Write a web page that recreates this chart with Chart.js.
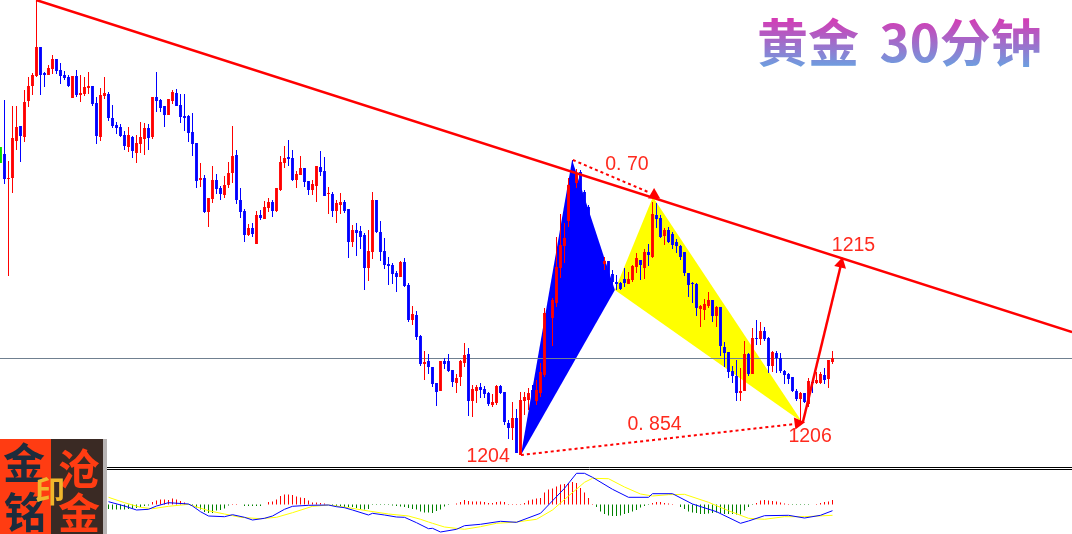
<!DOCTYPE html>
<html>
<head>
<meta charset="utf-8">
<title>黄金 30分钟</title>
<script src="https://cdn.jsdelivr.net/npm/chart.js@4/dist/chart.umd.min.js"></script>
<style>
  html, body { margin: 0; padding: 0; background: #fff; overflow: hidden; }
  canvas { display: block; }
</style>
</head>
<body>
<canvas id="goldChart" width="1072" height="534"></canvas>
<script>
// 30 minute gold candles
const opens = [
  1219.3,1218.05,1218.1,1219.95,1220.7,1220.15,1221.95,1222.7,1223.2,1224.65,
  1223.35,1223.25,1223.55,1224.05,1223.5,1223.25,1223.15,1222.1,1223.2,1222.25,
  1222.3,1222.6,1222.7,1221.85,1220.15,1222.2,1222.3,1221.1,1220.75,1220.65,
  1220.25,1219.65,1220.15,1219.35,1219.8,1220.05,1220.6,1220.15,1222.15,1222,
  1221.7,1221.25,1221.95,1222.35,1221.75,1221.2,1221.2,1220.4,1219.85,1218,
  1218.1,1216.4,1217.05,1218,1217.6,1217.25,1217.75,1218.35,1219.25,1217,
  1216.45,1215.25,1215.6,1214.8,1216.25,1216.05,1216.6,1216.9,1216.45,1217.5,
  1218.85,1219.15,1219.1,1218,1218.25,1218.6,1217.95,1217.5,1217.7,1218.65,
  1218.45,1217.3,1217.3,1216.45,1216.75,1216.9,1216.55,1214.9,1215.5,1215.45,
  1215.25,1213.6,1214.4,1217,1215.4,1214.45,1213.8,1213.75,1213.35,1213.15,
  1213.9,1212.75,1211,1211.25,1210.2,1208.8,1208.95,1208.65,1207.85,1207.45,
  1208.95,1208.95,1208.5,1207.85,1208.15,1208.85,1209.3,1206.95,1207.45,1207.65,
  1207.55,1207.35,1206.75,1206.85,1207.7,1207.4,1205.85,1205.6,1206.1,1204.25,
  1206.95,1207,1207.5,1206.95,1207.35,1208.25,1211.75,1211.1,1211.85,1213.6,
  1214.7,1215.95,1218.4,1217.85,1218.4,1217.4,1216.65,1215.6,1214.75,1214,
  1213.8,1213.95,1213.3,1212.9,1212.85,1213.05,1212.8,1213,1213.65,1214,
  1213.6,1214.4,1214.15,1216.25,1216.1,1215.2,1215.5,1215.3,1214.9,1214.7,
  1214.4,1213.35,1212.85,1212.8,1211.55,1211.5,1211.7,1212,1211.2,1211.65,
  1209.65,1209.4,1208.45,1208.2,1207.35,1207.45,1209.3,1208.3,1210.1,1210.05,
  1210.45,1210.1,1208.7,1209.35,1209.1,1208.45,1208.3,1208.15,1207.45,1207.05,
  1207.35,1206.8,1207.9,1207.85,1207.85,1208.25,1208.05,1208.9
];
const closes = [
  1218.05,1218.1,1220.1,1220.65,1220.2,1221.9,1222.7,1223.25,1224.65,1223.25,
  1223.25,1223.6,1224.05,1223.45,1223.2,1223.1,1222.7,1223.2,1222.25,1222.35,
  1222.65,1222.7,1221.8,1220.2,1222.25,1222.35,1221.1,1220.7,1220.6,1220.2,
  1219.7,1220.25,1219.45,1219.85,1220.15,1220.6,1220.1,1222.15,1221.95,1221.6,
  1221.25,1222.05,1222.4,1221.7,1221.15,1221.1,1220.35,1219.8,1217.95,1218.1,
  1216.4,1217.1,1218,1217.55,1217.3,1217.75,1218.35,1219.2,1217,1216.4,
  1215.25,1215.6,1215.3,1216.25,1216.1,1216.65,1216.9,1216.45,1217.6,1218.9,
  1219.1,1219.05,1218,1218.3,1218.6,1217.9,1217.5,1217.8,1218.7,1218.4,
  1217.2,1217.35,1216.45,1216.85,1216.9,1216.45,1214.9,1215.5,1215.35,1215.15,
  1213.6,1214.45,1217,1215.4,1214.4,1213.75,1213.7,1213.3,1213.15,1213.9,
  1212.7,1211,1211.3,1210.15,1208.8,1208.9,1208.65,1207.8,1207.4,1208.95,
  1208.8,1208.45,1207.9,1208.1,1208.95,1209.25,1206.95,1207.55,1207.65,1207.5,
  1207.3,1206.8,1206.9,1207.7,1207.35,1205.9,1205.6,1206.1,1204.35,1207,
  1207.15,1207.35,1206.9,1207.5,1208.4,1211.35,1211,1212,1213.65,1214.75,
  1215.1,1217.75,1217.75,1218.35,1217.5,1216.75,1215.75,1214.75,1213.9,1213.6,
  1213.95,1213.25,1212.9,1212.8,1212.55,1212.85,1213.05,1213.7,1214.1,1213.75,
  1214.4,1214.25,1216.3,1216.05,1215.15,1215.5,1214.9,1214.75,1214.7,1214.15,
  1213.35,1212.75,1212.8,1211.6,1211.7,1211.8,1212,1211.2,1211.65,1209.7,
  1209.35,1208.4,1208.2,1207.35,1207.45,1209.3,1208.3,1210.1,1210.05,1210.45,
  1210.05,1208.7,1209.4,1209.1,1208.45,1208.25,1208.05,1207.45,1207.05,1207.35,
  1206.9,1207.95,1207.85,1208,1208.3,1208,1209,1209.1
];
const highs = [
  1222,1218.95,1221.7,1221.7,1220.7,1222.5,1223.15,1223.35,1227,1224.65,
  1223.4,1223.75,1224.25,1224.05,1223.85,1223.45,1223.25,1223.2,1223.5,1223.25,
  1223.15,1223.4,1222.7,1222.15,1222.6,1223.15,1222.4,1221.75,1220.9,1220.8,
  1220.45,1220.65,1220.2,1220.25,1220.9,1220.85,1220.8,1222.15,1223.4,1222.05,
  1221.7,1222.05,1222.5,1222.55,1222.3,1222.3,1221.25,1221.35,1219.85,1218.85,
  1218.25,1217.1,1218.7,1218.3,1217.7,1218.2,1218.9,1220.7,1219.5,1217.6,
  1216.55,1215.8,1215.85,1216.45,1216.5,1216.95,1217.1,1217,1217.6,1219.2,
  1219.7,1220,1219.5,1218.45,1219.2,1218.6,1217.95,1218,1218.7,1219.45,
  1219.15,1217.65,1217.4,1217,1217.35,1217,1216.55,1215.75,1215.85,1215.7,
  1215.35,1215.5,1217.4,1217,1215.95,1215.1,1214.15,1213.85,1213.45,1213.95,
  1214.1,1212.85,1211.7,1211.45,1210.25,1209.45,1209.3,1208.65,1207.85,1208.95,
  1209.1,1209.3,1208.5,1208.3,1209,1209.85,1209.6,1207.75,1207.75,1207.85,
  1207.7,1207.4,1207.3,1207.75,1207.75,1207.4,1206,1206.9,1206.55,1207.4,
  1207.4,1207.6,1207.75,1208,1208.85,1211.6,1212,1212.1,1215.15,1216.3,
  1215.85,1218.1,1219,1218.55,1218.5,1217.5,1216.75,1215.75,1215,1214.25,
  1214.15,1213.95,1213.5,1213.25,1212.9,1213.6,1213.4,1213.75,1214.35,1214,
  1214.55,1214.8,1216.9,1216.85,1216.25,1215.6,1215.65,1215.4,1215.05,1214.75,
  1214.4,1213.35,1212.9,1212.85,1211.75,1212.05,1212.4,1212,1211.7,1211.65,
  1209.9,1209.4,1208.7,1209,1208.6,1209.95,1209.35,1210.6,1211,1210.9,
  1210.65,1210.15,1209.45,1209.45,1209.35,1208.5,1208.35,1208.15,1207.55,1207.4,
  1207.35,1208.1,1208,1208.4,1208.4,1208.6,1209,1209.45
];
const lows = [
  1217.8,1213.2,1217.35,1219.5,1218.9,1219.9,1221.65,1222.25,1223.15,1222.25,
  1222.65,1223.25,1223.3,1223.3,1222.8,1223,1222.65,1222.1,1222.15,1221.9,
  1222.2,1222.3,1221.7,1219.8,1219.95,1222.05,1220.95,1220.6,1220.3,1220.15,
  1219.5,1219.4,1219.1,1218.85,1219.35,1219.25,1219.5,1220.05,1221.4,1221.4,
  1220.65,1221.25,1221.8,1221.7,1220.85,1220.45,1219.9,1219.2,1217.6,1217.65,
  1216.35,1215.65,1216.85,1217.3,1217,1217.1,1217.6,1217.85,1216.8,1216.1,
  1214.9,1215.2,1215.15,1214.8,1216,1216.05,1216.4,1216.15,1216.4,1217.45,
  1218.6,1218.7,1217.95,1217.6,1218.25,1217.65,1217.25,1217.25,1216.9,1218.2,
  1217.2,1216.3,1216.15,1215.85,1216.3,1216.35,1214.1,1214.65,1214.2,1214.55,
  1212.5,1212.95,1214.05,1215.35,1213.95,1213.55,1212.75,1212.8,1212.4,1213.15,
  1212.65,1210.9,1210.75,1210,1208.7,1208,1208.3,1207.65,1206.7,1207.45,
  1208.55,1208.4,1207.65,1207.35,1207.7,1208.65,1206.2,1206.15,1206.85,1207.1,
  1207.1,1206.7,1206.65,1206.75,1207.3,1205.75,1205.05,1205,1204.35,1204.25,
  1206.25,1206.5,1206.5,1206.75,1207.15,1208.15,1210.5,1209.7,1211.65,1213.1,
  1213.85,1215.65,1217.25,1217.6,1217.25,1216.25,1215.4,1214.5,1213.5,1213.1,
  1213.5,1213,1212.5,1212.5,1212.5,1212.65,1212.8,1212.9,1213.35,1213,
  1213.05,1213.7,1214.1,1215.6,1215.1,1214.75,1214.85,1214.55,1214.35,1214,
  1213.2,1212.15,1211.85,1211.2,1210.65,1211,1211.6,1210.9,1210.65,1209.2,
  1208.65,1208.1,1207.85,1206.95,1206.95,1207.45,1208.2,1208.3,1209.75,1209.75,
  1209.95,1208.35,1208.4,1208.35,1208.35,1207.8,1207.8,1207.4,1206.95,1205.9,
  1206.85,1206.65,1207.35,1207.8,1207.8,1207.8,1207.6,1208.8
];
// partly cut off bar at the left edge
const edgeBarIndex = -1;
const edgeBarRange = [1218.85, 1219.65];

// MACD histogram starts at candle 26
const histStart = 26;
const macdHist = [
  -4.5,-5,-5,-5,-5,-4.5,-4,-3.5,-2.5,-1.5,-1,2.5,4,5,5,4.5,6,5,3.5,2,
  -0.5,-1,-3,-5,-7.5,-8.5,-8.5,-6,-5.5,-4,-1,0.5,0.5,0,-1.5,-1.5,-1.5,-1.5,-1.5,0,
  2.5,3,5,8.5,10,10,9.5,8,7,6.5,4,2,2,1.5,1,0,-1.5,-1.5,-1.5,-2.5,
  -2.5,-2.5,-3.5,-4.5,-5,-4.5,-0.5,-0.5,-0.5,-0.5,-0.5,-1,-1.5,-2,-2.5,-3.5,-4.5,-5,-7,-8,
  -8,-8.5,-6.5,-5,-2,-0.5,0,1,2.5,4.5,3.5,3,3,3,2.5,1.5,1.5,2.5,3,2.5,
  0.5,0.5,0.5,0.5,1.5,4,5,6,6.5,12,15,16,18,20,20.5,21.5,22.5,21.5,16.5,12,
  6.5,0.5,-2.5,-7,-9.5,-11,-11.5,-11.5,-11,-9.5,-8.5,-7,-5.5,-3,-1.5,-0.5,1.5,2.5,2.5,1.5,
  1,0.5,0,-2.5,-4.5,-7,-8,-8.5,-9.5,-9.5,-9,-8.5,-8,-8.5,-9.5,-9.5,-9.5,-10,-10,-6,
  -2.5,-0.5,1.5,4,4.5,4,3.5,3,2,1,0.5,-0.5,-0.5,-0.5,-0.5,-0.5,0,0.5,1.5,2.5,
  3,4.5
];
const diffIndex = [26,30,33,36,38,41,46,47,49,51,55,57,60,62,65,67,70,72,76,81,83,85,87,91,92,95,98,100,103,106,
  107,109,113,115,119,124,128,134,140,143,145,147,152,156,161,162,167,172,178,184,186,190,196,200,204,207];
const diffLine = [2.8,-1.5,-5.5,-4.8,-1.5,1.8,0.5,-1.5,-7.2,-11.5,-12.2,-10.2,-12.8,-15.5,-13.8,-11.5,-4.8,-1.8,-0.8,-0.5,-2.2,-3.2,-5.5,-10.5,-8.8,-10.5,-12.5,-12.8,-18.2,-24.2,
  -23.8,-27.5,-24.8,-21.2,-19.8,-16.8,-17.8,-8.8,16.2,31.2,31.2,27.2,15.2,7.2,7.2,10.8,10.8,0.5,-7.2,-18.8,-16.5,-11.2,-10.8,-13.5,-10.8,-6.2];
const deaIndex = [26,30,34,37,41,46,51,55,59,64,68,72,77,81,86,91,96,101,104,106,
  107,110,115,119,123,128,133,137,141,145,147,151,155,159,162,166,170,176,181,186,190,195,200,207];
const deaLine = [7.2,1.8,-2.8,-4.2,-1.8,0.2,-6.2,-9.5,-12.8,-14.2,-12.8,-8.2,-1.8,-0.5,-3.2,-6.5,-9.5,-11.5,-14.8,-17.5,
  -18.8,-22.5,-24.8,-22.2,-18.8,-17.5,-14.8,-5.5,8.5,22.2,26.2,25.8,17.5,10.5,8.5,9.8,10.2,2.2,-6.2,-13.8,-14.8,-12.2,-12.2,-10.8];

// drawn objects: trend line, level, harmonic pattern legs
const trendIndex = [7.9, 266.9];
const trendPrice = [1227, 1210.4];
const levelIndex = [-1.125, 266.875];
const levelPrice = 1209.075;
const separatorPrices = [1203.625, 1203.525];
const separatorIndex = [25.6, 266.9];
const blueLegIndex = [141.9, 129.1, 152.6, 141.9];
const blueLegPrice = [1219, 1204.25, 1212.5, 1219];
const yellowLegIndex = [162.1, 152.6, 199.4, 162.1];
const yellowLegPrice = [1217.15, 1212.5, 1205.9, 1217.15];
const upperDotIndex = [142.1, 160.9];
const upperDotPrice = [1219, 1217.4];
const lowerDotIndex = [129.1, 197.6];
const lowerDotPrice = [1204.25, 1205.8];
const arrowIndex = [199.6, 209.4];
const arrowPrice = [1205.9, 1214];
const headIndex = [162.4, 198.4, 209.1];
const headPrice = [1217.25, 1205.85, 1213.8];
const headAngle = [0, 83, 13];

const labelTexts = ["0. 70", "0. 854", "1204", "1206", "1215"];
const labelIndex = [155.6, 162.5, 120.9, 201.4, 212.25];
const labelPrice = [1218.75, 1205.75, 1204.15, 1205.15, 1214.7];

const RED = "#ff0000";
const BLUE = "#0000ff";
const candleIndex = opens.map((_, i) => i);
const candleColors = opens.map((o, i) => (closes[i] >= o ? RED : BLUE));

function points(xs, ys) {
  return xs.map((x, i) => ({ x: x, y: ys[i] }));
}

function lineSet(xs, ys, color, width, extra) {
  return Object.assign({
    type: "line",
    data: points(xs, ys),
    borderColor: color,
    borderWidth: width,
    pointRadius: 0,
    tension: 0,
    fill: false
  }, extra || {});
}

// text that is not tied to the bars: title and the stamp at bottom left
const decorations = {
  id: "decorations",
  afterDatasetsDraw(chart) {
    const ctx = chart.ctx;
    const sx = chart.scales.x;
    const sy = chart.scales.y;
    ctx.save();

    ctx.textBaseline = "middle";
    ctx.textAlign = "center";
    ctx.fillStyle = "#ff2a1e";
    ctx.font = '19.5px "Liberation Sans"';
    labelTexts.forEach((t, i) => {
      ctx.fillText(t, sx.getPixelForValue(labelIndex[i]), sy.getPixelForValue(labelPrice[i]));
    });

    const grad = ctx.createLinearGradient(0, 18, 0, 67);
    grad.addColorStop(0, "#d63ab4");
    grad.addColorStop(1, "#6c9fe0");
    ctx.fillStyle = grad;
    ctx.textAlign = "left";
    ctx.font = 'bold 51px "Noto Sans CJK SC"';
    ctx.wordSpacing = "9px";
    ctx.fillText("黄金 30分钟", 757, 43);
    ctx.wordSpacing = "0px";

    ctx.fillStyle = "#ff3c12";
    ctx.fillRect(0, 439, 51, 95);
    ctx.fillStyle = "#3a2a24";
    ctx.fillRect(51, 439, 52, 95);
    ctx.fillStyle = "#b8b4b4";
    ctx.fillRect(103, 439, 4, 95);

    ctx.textAlign = "center";
    ctx.font = 'bold 42px "Noto Sans CJK SC"';
    ctx.fillStyle = "#1d2c3c";
    ctx.fillText("金", 24, 463);
    ctx.fillText("铭", 25, 512);
    ctx.fillStyle = "#ff3c12";
    ctx.fillText("沧", 79, 469);
    ctx.fillText("金", 79, 513);
    ctx.font = 'bold 30px "Noto Sans CJK SC"';
    ctx.fillStyle = "#f0b62c";
    ctx.fillText("印", 50, 491);

    ctx.restore();
  }
};

new Chart(document.getElementById("goldChart"), {
  type: "bar",
  plugins: [decorations],
  data: {
    datasets: [
      // first in the list is painted last
      lineSet(headIndex, headPrice, RED, 0, {
        showLine: false,
        pointStyle: "triangle",
        pointRadius: 7,
        pointRotation: headAngle,
        pointBackgroundColor: RED,
        pointBorderWidth: 0
      }),
      lineSet(arrowIndex, arrowPrice, RED, 2.5),
      lineSet(upperDotIndex, upperDotPrice, RED, 2, { borderDash: [3, 3] }),
      lineSet(lowerDotIndex, lowerDotPrice, RED, 2, { borderDash: [3, 3] }),
      lineSet(trendIndex, trendPrice, RED, 2.5),
      lineSet(separatorIndex, separatorIndex.map(() => separatorPrices[0]), "#000000", 1),
      lineSet(separatorIndex, separatorIndex.map(() => separatorPrices[1]), "#000000", 1),
      lineSet(diffIndex, diffLine, BLUE, 1, { yAxisID: "macd" }),
      lineSet(deaIndex, deaLine, "#ffff00", 1, { yAxisID: "macd" }),
      // with grouped: false only maxBarThickness limits the bar width
      {
        yAxisID: "macd",
        data: macdHist.map((v, i) => ({ x: histStart + i, y: v })),
        backgroundColor: macdHist.map(v => (v > 0 ? RED : "#008000")),
        maxBarThickness: 1,
        grouped: false
      },
      {
        data: candleIndex.map(i => ({ x: i, y: [opens[i], closes[i]] })),
        backgroundColor: candleColors,
        maxBarThickness: 3,
        grouped: false
      },
      {
        data: candleIndex.map(i => ({ x: i, y: [lows[i], highs[i]] })),
        backgroundColor: candleColors,
        maxBarThickness: 1,
        grouped: false
      },
      {
        data: [{ x: edgeBarIndex, y: edgeBarRange }],
        backgroundColor: "#00e000",
        maxBarThickness: 3,
        grouped: false
      },
      lineSet(levelIndex, levelIndex.map(() => levelPrice), "#708090", 1),
      lineSet(yellowLegIndex, yellowLegPrice, "#ffff00", 0, { fill: "shape", backgroundColor: "#ffff00" }),
      lineSet(blueLegIndex, blueLegPrice, BLUE, 0, { fill: "shape", backgroundColor: BLUE })
    ]
  },
  options: {
    responsive: false,
    animation: false,
    layout: { padding: 0, autoPadding: false },
    plugins: {
      legend: { display: false },
      title: { display: false },
      tooltip: { enabled: false }
    },
    scales: {
      x: { type: "linear", display: false, offset: false, min: -1.125, max: 266.875 },
      y: { display: false, min: 1200.3, max: 1227 },
      macd: { display: false, min: -29.5, max: 504.5 }
    }
  }
});
</script>
</body>
</html>
